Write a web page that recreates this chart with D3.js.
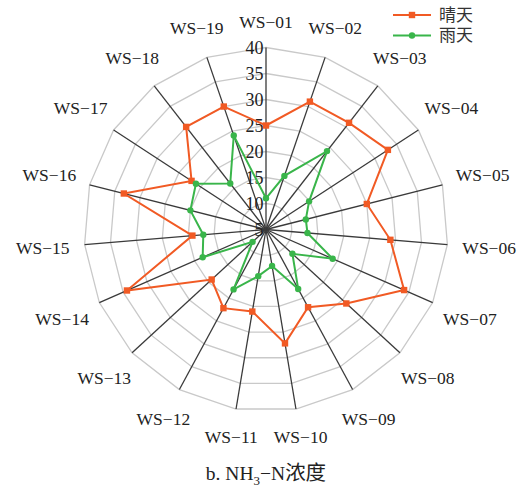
<!DOCTYPE html>
<html>
<head>
<meta charset="utf-8">
<script src="https://cdn.jsdelivr.net/npm/d3@7"></script>
<style>
html,body{margin:0;padding:0;background:#fff;}
svg{display:block;}
text{font-family:"Liberation Serif","DejaVu Serif","Noto Sans CJK SC",serif;fill:#222;}
</style>
</head>
<body>
<svg id="chart" width="520" height="490"></svg>
<script>
const categories = ["WS−01","WS−02","WS−03","WS−04","WS−05","WS−06","WS−07","WS−08","WS−09","WS−10",
  "WS−11","WS−12","WS−13","WS−14","WS−15","WS−16","WS−17","WS−18","WS−19"];
const sunnyValues = [25, 31, 31, 33, 25, 29, 34, 26, 22, 27.2, 21, 22.2, 19.2, 34.2, 19.2, 33.2, 22.1, 30, 30];
const rainyValues = [11, 15.9, 24.1, 14.9, 12.9, 13, 19, 11.9, 18, 12.1, 14.1, 18.1, 8.5, 18.3, 17.1, 20, 21.1, 16.2, 24.1];
const tickValues = [5, 10, 15, 20, 25, 30, 35, 40];
const seriesNames = ["晴天", "雨天"];
const seriesColors = ["#f15a24", "#39b54a"];

const svg = d3.select("#chart");
const cx = 266, cy = 229.5, R = 182;
const n = categories.length;
const r = d3.scaleLinear().domain([5, 40]).range([0, R]);
const ang = d3.scaleLinear().domain([0, n]).range([0, 2 * Math.PI]);
const px = (i, v) => cx + Math.sin(ang(i)) * r(v);
const py = (i, v) => cy - Math.cos(ang(i)) * r(v);

// grid polygons
const g = svg.append("g");
tickValues.filter(t => t > 5).forEach(t => {
  const pts = d3.range(n).map(i => [px(i, t), py(i, t)]);
  g.append("polygon")
    .attr("points", pts.map(p => p.join(",")).join(" "))
    .attr("fill", "none").attr("stroke", "#c9c9c9").attr("stroke-width", 1.3);
});
// spokes
d3.range(n).forEach(i => {
  g.append("line")
    .attr("x1", cx).attr("y1", cy)
    .attr("x2", px(i, 40)).attr("y2", py(i, 40))
    .attr("stroke", "#3a3a3a").attr("stroke-width", 1.3);
});
// tick labels
tickValues.forEach(t => {
  g.append("text")
    .attr("x", cx - 2.5).attr("y", cy - r(t))
    .attr("text-anchor", "end").attr("dominant-baseline", "central")
    .attr("font-size", 18).text(t);
});
// category labels
categories.forEach((c, i) => {
  const a = ang(i);
  const d = 208 + 16 * Math.abs(Math.sin(a));
  g.append("text")
    .attr("x", cx + Math.sin(a) * d).attr("y", cy - Math.cos(a) * d)
    .attr("text-anchor", "middle").attr("dominant-baseline", "central")
    .attr("font-size", 17.5).text(c);
});

// series
const line = d3.line().curve(d3.curveLinearClosed);
const series = [sunnyValues, rainyValues];
series.forEach((vals, s) => {
  const pts = vals.map((v, i) => [px(i, v), py(i, v)]);
  svg.append("path").attr("d", line(pts))
    .attr("fill", "none").attr("stroke", seriesColors[s]).attr("stroke-width", 2);
  pts.forEach(p => {
    if (s === 0) {
      svg.append("rect").attr("x", p[0] - 3.2).attr("y", p[1] - 3.2)
        .attr("width", 6.4).attr("height", 6.4).attr("fill", seriesColors[s]);
    } else {
      svg.append("circle").attr("cx", p[0]).attr("cy", p[1]).attr("r", 3.2)
        .attr("fill", seriesColors[s]);
    }
  });
});

// legend
seriesNames.forEach((nm, s) => {
  const y = 15 + s * 20.5;
  const lg = svg.append("g");
  lg.append("line").attr("x1", 393).attr("x2", 431).attr("y1", y).attr("y2", y)
    .attr("stroke", seriesColors[s]).attr("stroke-width", 2);
  if (s === 0) {
    lg.append("rect").attr("x", 412 - 3.2).attr("y", y - 3.2).attr("width", 6.4).attr("height", 6.4)
      .attr("fill", seriesColors[s]);
  } else {
    lg.append("circle").attr("cx", 412).attr("cy", y).attr("r", 3.2).attr("fill", seriesColors[s]);
  }
  lg.append("text").attr("x", 439).attr("y", y).attr("dominant-baseline", "central")
    .attr("font-size", 17).style("fill", "#333").text(nm);
});

// title
const title = svg.append("text").attr("x", 266).attr("y", 480)
  .attr("text-anchor", "middle").attr("font-size", 19.5);
title.append("tspan").text("b. NH");
title.append("tspan").attr("font-size", 13).attr("dy", 5).text("3");
title.append("tspan").attr("dy", -5).text("−N");
title.append("tspan").attr("font-size", 20.5).text("浓度");
</script>
</body>
</html>
